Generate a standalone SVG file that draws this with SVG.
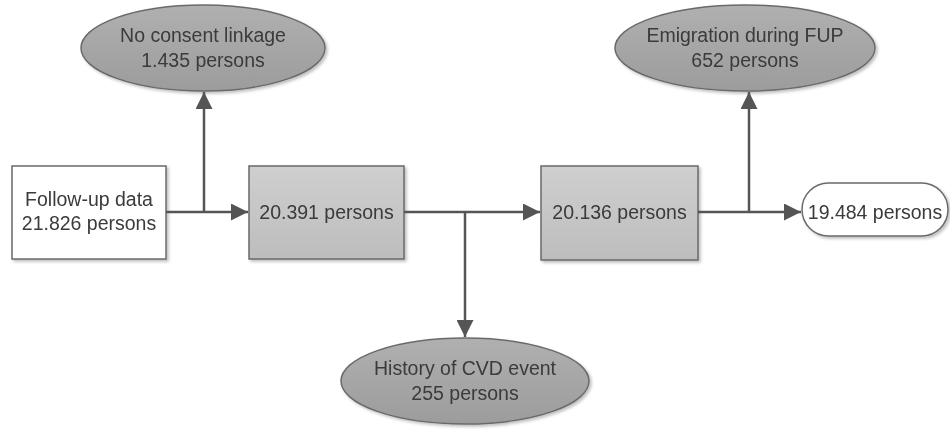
<svg xmlns="http://www.w3.org/2000/svg" width="950" height="429" viewBox="0 0 950 429">
<style>
text{font-family:"Liberation Sans",Arial,sans-serif;font-size:19.5px;fill:#3a3a3a;text-anchor:middle}
.box{fill:url(#g);stroke:#6a6a6a;stroke-width:1.5}
.ell{fill:url(#ge);stroke:#6a6a6a;stroke-width:1.5}
.white{fill:#fff;stroke:#6a6a6a;stroke-width:1.5}
.c{fill:none;stroke:#555;stroke-width:2.5}
</style>
<defs>
<linearGradient id="g" x1="0" y1="0" x2="0" y2="1"><stop offset="0" stop-color="#cfcfcf"/><stop offset="1" stop-color="#bdbdbd"/></linearGradient>
<linearGradient id="ge" x1="0" y1="0" x2="0" y2="1"><stop offset="0" stop-color="#b0b0b0"/><stop offset="1" stop-color="#9c9c9c"/></linearGradient>
<filter id="sh" x="-10%" y="-10%" width="130%" height="130%"><feDropShadow dx="2" dy="2" stdDeviation="1.5" flood-color="#000" flood-opacity="0.25"/></filter>
<marker id="ar" viewBox="0 0 10 10" refX="10" refY="5" markerWidth="6.8" markerHeight="6.8" orient="auto"><path d="M0,0L10,5L0,10z" fill="#555"/></marker>
</defs>
<g id="n1" filter="url(#sh)"><rect class="white" x="12" y="166" width="154" height="93"/><text x="89" y="206">Follow-up data</text><text x="89" y="230">21.826 persons</text></g>
<g id="n2" filter="url(#sh)"><rect class="box" x="249" y="166" width="155" height="93"/><text x="326.5" y="219">20.391 persons</text></g>
<g id="n3" filter="url(#sh)"><rect class="box" x="541" y="166" width="157" height="94"/><text x="619.5" y="219">20.136 persons</text></g>
<g id="n4" filter="url(#sh)"><rect class="white" x="802" y="183" width="146" height="53" rx="26.5"/><text x="875" y="219">19.484 persons</text></g>
<g id="e1" filter="url(#sh)"><ellipse class="ell" cx="203" cy="48" rx="122" ry="43"/><text x="203" y="42">No consent linkage</text><text x="203" y="67">1.435 persons</text></g>
<g id="e2" filter="url(#sh)"><ellipse class="ell" cx="745" cy="48" rx="130" ry="43"/><text x="745" y="42">Emigration during FUP</text><text x="745" y="67">652 persons</text></g>
<g id="e3" filter="url(#sh)"><ellipse class="ell" cx="465" cy="381" rx="124" ry="43"/><text x="465" y="375">History of CVD event</text><text x="465" y="400">255 persons</text></g>
<g id="connectors">
<path class="c" d="M166,212H248" marker-end="url(#ar)"/>
<path class="c" d="M204,212V92" marker-end="url(#ar)"/>
<path class="c" d="M404,212H540" marker-end="url(#ar)"/>
<path class="c" d="M465,212V337" marker-end="url(#ar)"/>
<path class="c" d="M698,212H801" marker-end="url(#ar)"/>
<path class="c" d="M749,212V92" marker-end="url(#ar)"/>
</g>
</svg>
